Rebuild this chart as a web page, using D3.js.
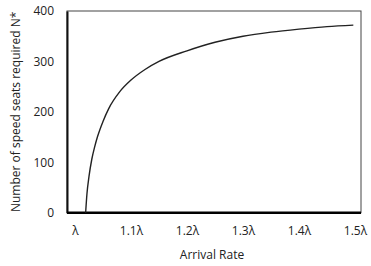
<!DOCTYPE html>
<html><head><meta charset="utf-8">
<script src="https://cdn.jsdelivr.net/npm/d3@7"></script>
<style>body{margin:0;background:#fff}svg{display:block}text{font-family:"Open Sans",sans-serif;fill:#222}</style>
</head><body>
<svg id="c" width="371" height="266"></svg>
<script>
const arrivalRate = [1.019, 1.0214, 1.025, 1.03, 1.035, 1.04, 1.05, 1.06, 1.08, 1.10, 1.125, 1.15, 1.2, 1.25, 1.3, 1.35, 1.4, 1.45, 1.497];
const seatsRequired = [0, 38, 72, 106, 130, 150, 181, 206, 240, 263, 284, 300, 321, 338, 350, 358, 364, 369, 372];
const xTicks = [1.0, 1.1, 1.2, 1.3, 1.4, 1.5];
const xTickLabels = ["λ", "1.1λ", "1.2λ", "1.3λ", "1.4λ", "1.5λ"];
const yTicks = [0, 100, 200, 300, 400];
const xTitle = "Arrival Rate";
const yTitle = "Number of speed seats required N*";

const svg = d3.select("#c");
const L = 67, R = 361, T = 11, B = 212.7;
const x = d3.scaleLinear().domain([1.0, 1.5]).range([75, 355]);
const y = d3.scaleLinear().domain([0, 400]).range([B, T]);

// frame
svg.append("rect").attr("x", L).attr("y", T).attr("width", R - L).attr("height", B - T)
  .attr("fill", "none").attr("stroke", "#444").attr("stroke-width", 1);

// y axis
const ya = svg.append("g").attr("transform", `translate(${L},0)`)
  .call(d3.axisLeft(y).tickValues(yTicks).tickSize(0).tickPadding(13).tickFormat(d3.format("d")));
ya.select(".domain").attr("stroke", "#111").attr("stroke-width", 2);
ya.selectAll("text").style("font-size", "12px").attr("fill", "#222");

// x axis
const xa = svg.append("g").attr("transform", `translate(0,${B})`)
  .call(d3.axisBottom(x).tickValues(xTicks).tickSize(0).tickPadding(14).tickFormat((d, i) => xTickLabels[i]));
xa.select(".domain").attr("d", `M${L},0H${R}`).attr("stroke", "#000").attr("stroke-width", 2.5);
xa.selectAll("text").style("font-size", "12px").attr("fill", "#222");

// curve
const data = arrivalRate.map((a, i) => [a, seatsRequired[i]]);
svg.append("path").datum(data)
  .attr("fill", "none").attr("stroke", "#222").attr("stroke-width", 1.4)
  .attr("d", d3.line().x(d => x(d[0])).y(d => y(d[1])).curve(d3.curveMonotoneX));

// titles
svg.append("text").attr("x", (L + R) / 2 - 2).attr("y", 259).attr("text-anchor", "middle")
  .style("font-size", "12px").text(xTitle);
svg.append("text").attr("transform", `translate(19.5,${(T + B) / 2}) rotate(-90)`)
  .attr("text-anchor", "middle").style("font-size", "12px").text(yTitle);
</script>
</body></html>
